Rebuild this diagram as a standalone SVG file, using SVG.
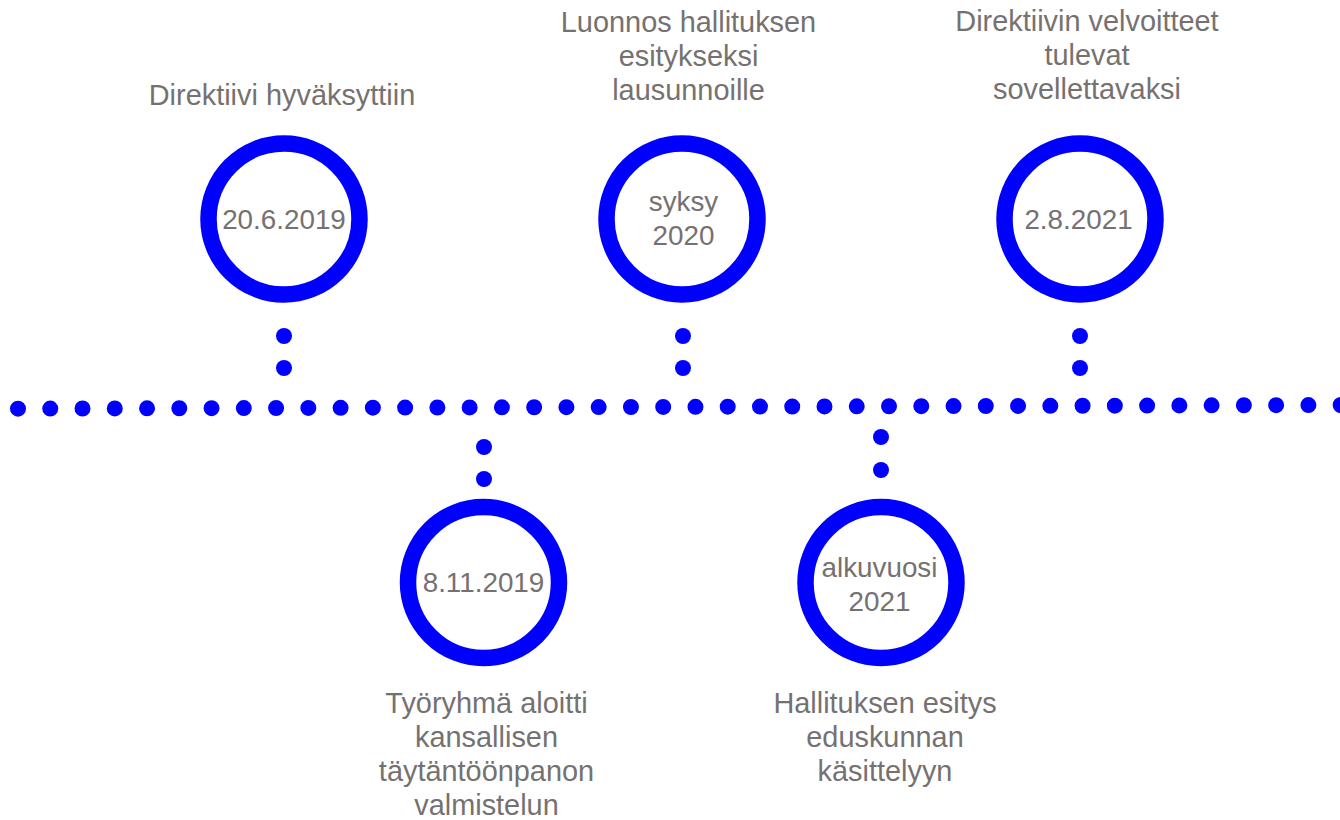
<svg xmlns="http://www.w3.org/2000/svg" width="1340" height="820" viewBox="0 0 1340 820">
<style>
.ring{fill:#ffffff;stroke:#0000ff;stroke-width:16.5}
.dot{fill:#0000ff}
.t{font-family:"Liberation Sans",Arial,sans-serif;fill:#767171;text-anchor:middle}
.c{font-size:27.8px}
.l{font-size:28.9px}
</style>
<rect width="1340" height="820" fill="#ffffff"/>
<g id="connectors">
<line x1="18" y1="408.7" x2="1341" y2="405" stroke="#0000ff" stroke-width="16" stroke-linecap="round" stroke-dasharray="0 32.26"/>
<circle class="dot" cx="284" cy="336" r="8"/>
<circle class="dot" cx="284" cy="368" r="8"/>
<circle class="dot" cx="683" cy="336" r="8"/>
<circle class="dot" cx="683" cy="368" r="8"/>
<circle class="dot" cx="1080" cy="336" r="8"/>
<circle class="dot" cx="1080" cy="368" r="8"/>
<circle class="dot" cx="484" cy="447" r="8"/>
<circle class="dot" cx="484" cy="479" r="8"/>
<circle class="dot" cx="881" cy="437" r="8"/>
<circle class="dot" cx="881" cy="470" r="8"/>
</g>
<g id="node1">
<circle class="ring" cx="284" cy="219" r="75.5"/>
<text class="t c" x="284" y="229">20.6.2019</text>
<text class="t l" x="282" y="105">Direktiivi hyväksyttiin</text>
</g>
<g id="node2">
<circle class="ring" cx="483.5" cy="582.5" r="75.5"/>
<text class="t c" x="483.5" y="592">8.11.2019</text>
<text class="t l" x="486.5" y="712.5">Työryhmä aloitti<tspan x="486.5" dy="34">kansallisen</tspan><tspan x="486.5" dy="34">täytäntöönpanon</tspan><tspan x="486.5" dy="34">valmistelun</tspan></text>
</g>
<g id="node3">
<circle class="ring" cx="682" cy="219" r="75.5"/>
<text class="t c" x="683.5" y="210.5">syksy<tspan x="683.5" dy="34.5">2020</tspan></text>
<text class="t l" x="688.5" y="31.5">Luonnos hallituksen<tspan x="688.5" dy="34">esitykseksi</tspan><tspan x="688.5" dy="34">lausunnoille</tspan></text>
</g>
<g id="node4">
<circle class="ring" cx="881" cy="582.5" r="75.5"/>
<text class="t c" x="879.5" y="576.5">alkuvuosi<tspan x="879.5" dy="34.5">2021</tspan></text>
<text class="t l" x="885" y="712.5">Hallituksen esitys<tspan x="885" dy="34">eduskunnan</tspan><tspan x="885" dy="34">käsittelyyn</tspan></text>
</g>
<g id="node5">
<circle class="ring" cx="1080" cy="219" r="75.5"/>
<text class="t c" x="1078.5" y="229">2.8.2021</text>
<text class="t l" x="1087" y="31">Direktiivin velvoitteet<tspan x="1087" dy="34">tulevat</tspan><tspan x="1087" dy="34">sovellettavaksi</tspan></text>
</g>
</svg>
